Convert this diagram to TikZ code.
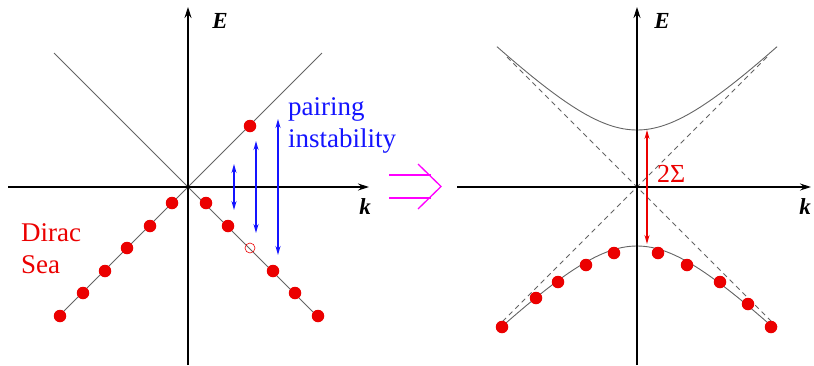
\documentclass[tikz,border=0pt]{standalone}
\usepackage{fontspec}
\setmainfont{Liberation Serif}
\usetikzlibrary{arrows.meta}
\definecolor{linegray}{RGB}{100,100,100}
\definecolor{dotred}{RGB}{235,0,0}
\definecolor{pairblue}{RGB}{20,20,255}
\definecolor{arrmag}{RGB}{255,0,255}
\tikzset{
  axis/.style={line width=1.2pt,-{Stealth[length=11pt,width=7pt]}},
  band/.style={linegray,line width=0.9pt},
  asym/.style={linegray,line width=0.8pt,dash pattern=on 5pt off 4pt},
  dot/.style={circle,fill=dotred,inner sep=0pt,minimum size=12.5pt},
  hole/.style={circle,draw=dotred,line width=0.6pt,inner sep=0pt,minimum size=10pt},
  pair/.style={pairblue,line width=1.4pt,{Stealth[length=9pt,width=5pt]}-{Stealth[length=9pt,width=5pt]}},
  gap/.style={dotred,line width=1.2pt,{Stealth[length=9pt,width=5pt]}-{Stealth[length=9pt,width=5pt]}},
  axlabel/.style={font=\rmfamily\fontsize{23}{26}\selectfont\bfseries\itshape},
  bigtext/.style={font=\rmfamily\fontsize{27}{32}\selectfont,align=left}
}
\begin{document}
\begin{tikzpicture}[x=1pt,y=-1pt]
\useasboundingbox (0,0) rectangle (814,365);
% ---------- left panel ----------
\coordinate (O1) at (188,187);
\coordinate (L1top) at (188,7);
\coordinate (L1bot) at (188,365);
\coordinate (L1left) at (8,187);
\coordinate (L1right) at (369,187);
\coordinate (ul) at (54,53);
\coordinate (ur) at (322,53);
\coordinate (ll) at (56,319);
\coordinate (lr) at (320,319);
\draw[band] (ul) -- (O1) -- (ur);
\draw[band] (ll) -- (O1) -- (lr);
\draw[axis] (L1bot) -- (L1top);
\draw[axis] (L1left) -- (L1right);
\node[axlabel] (E1) at (220,21) {E};
\node[axlabel] (k1) at (365,207) {k};
% Dirac sea dots
\foreach \i/\x/\y in {1/172/203,2/150/226,3/127/248,4/105/271,5/83/293,6/60/316}
  \node[dot] (sl\i) at (\x,\y) {};
\foreach \i/\x/\y in {1/206/203,2/228/226,4/273/271,5/295/293,6/318/316}
  \node[dot] (sr\i) at (\x,\y) {};
\node[hole] (hole) at (250,248) {};
\node[dot] (up) at (250,126) {};
% pairing arrows
\coordinate (a1t) at (234,164); \coordinate (a1b) at (234,210);
\coordinate (a2t) at (256,141); \coordinate (a2b) at (256,233);
\coordinate (a3t) at (278,119); \coordinate (a3b) at (278,255);
\draw[pair] (a1t) -- (a1b);
\draw[pair] (a2t) -- (a2b);
\draw[pair] (a3t) -- (a3b);
\node[bigtext,text=pairblue,anchor=north west,inner sep=0pt] (pairtxt) at (288,97) {pairing\\instability};
\node[bigtext,text=dotred,anchor=north west,inner sep=0pt] (dirac) at (21,223) {Dirac\\Sea};
% ---------- implication arrow ----------
\coordinate (m1a) at (389,175); \coordinate (m1b) at (431,175);
\coordinate (m2a) at (389,198); \coordinate (m2b) at (431,198);
\coordinate (mh1) at (418,164); \coordinate (mtip) at (441,186.5); \coordinate (mh2) at (418,209);
\draw[arrmag,line width=1.3pt] (m1a) -- (m1b);
\draw[arrmag,line width=1.3pt] (m2a) -- (m2b);
\draw[arrmag,line width=1.3pt] (mh1) .. controls (430,176) .. (mtip) .. controls (430,197) .. (mh2);
% ---------- right panel ----------
\coordinate (O2) at (637,187);
\coordinate (R2top) at (637,7);
\coordinate (R2bot) at (637,365);
\coordinate (R2left) at (457,187);
\coordinate (R2right) at (811,187);
\draw[asym] (507,57) -- (O2) -- (777,327);
\draw[asym] (767,57) -- (O2) -- (497,327);
\draw[band] plot[domain=-14:14,samples=81,smooth] ({637+10*\x},{187-(10*sqrt(\x*\x+7.6*7.6)-19)});
\draw[band] plot[domain=-13.8:13.8,samples=81,smooth] ({637+10*\x},{187+(10*sqrt(\x*\x+7.3*7.3)-14)});
\draw[axis] (R2bot) -- (R2top);
\draw[axis] (R2left) -- (R2right);
\node[axlabel] (E2) at (662,21) {E};
\node[axlabel] (k2) at (805,207) {k};
\foreach \i/\x/\y in {1/502/327,2/536/298,3/558/282,4/586/265,5/614/253,6/658/253,7/687/265,8/720/282,9/748/304,10/771/327}
  \node[dot] (b\i) at (\x,\y) {};
\coordinate (gt) at (647,130); \coordinate (gb) at (647,244);
\draw[gap] (gt) -- (gb);
\node[text=dotred,font=\rmfamily\fontsize{26}{31}\selectfont,anchor=west,inner sep=0pt] (sig) at (657,174) {2Σ};
\end{tikzpicture}
\end{document}
